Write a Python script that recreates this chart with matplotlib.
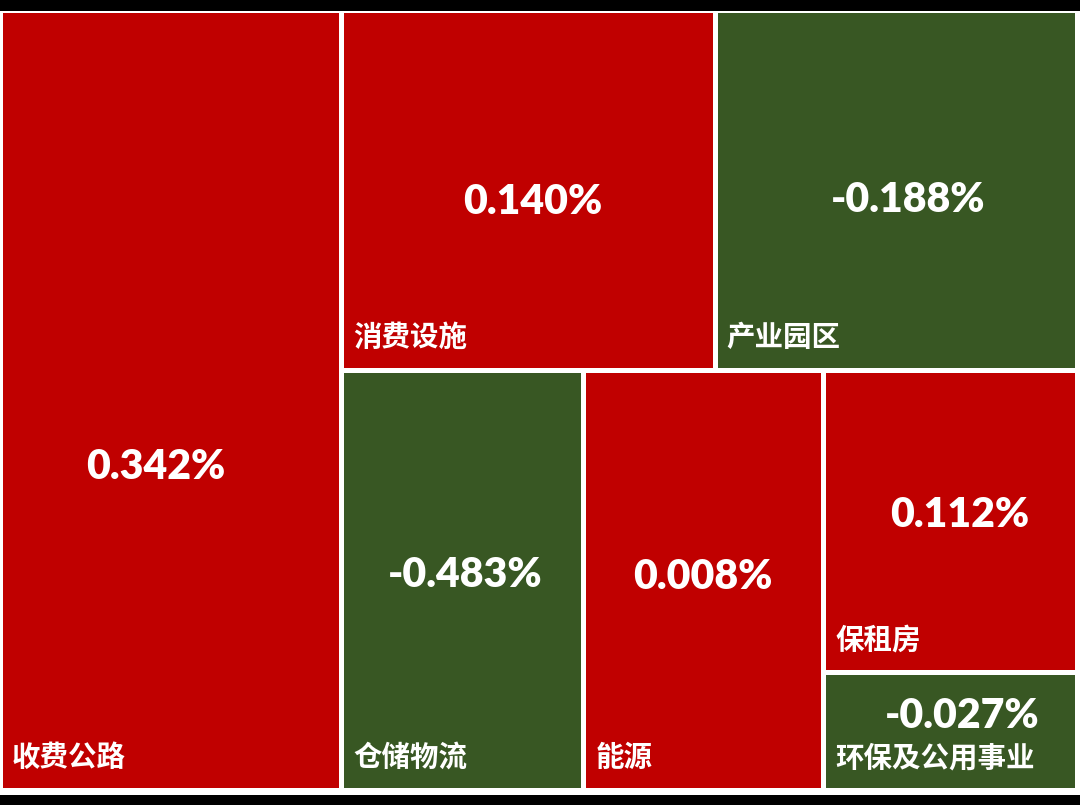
"""
REITs 板块涨跌幅矩形树图（复刻）
"""
import matplotlib
matplotlib.use("Agg")
import matplotlib.pyplot as plt
from matplotlib.patches import Rectangle

plt.rcParams["font.family"] = ["Noto Sans CJK SC", "DejaVu Sans"]

# 板块、涨跌幅(%)、面积权重（按图中面积估计）
sectors = ["收费公路", "消费设施", "产业园区", "仓储物流", "能源", "保租房", "环保及公用事业"]
pct_change = [0.342, 0.140, -0.188, -0.483, 0.008, 0.112, -0.027]
weights = [267, 135, 131, 102, 101, 77, 30]

# 分块结构: "h" 左右并排, "v" 上下堆叠; 叶子为 sectors 的下标
LAYOUT = ("h", [0, ("v", [("h", [1, 2]), ("h", [3, 4, ("v", [5, 6])])])])

# 数值标签相对矩形中心的偏移 (px)
VALUE_OFFSETS = [(-15, 67), (5, 12), (12, 10), (3, -5), (0, -3), (10, -6), (12, -15)]

RED = "#C00000"
GREEN = "#385723"
W_PX, H_PX = 1077, 780.5


def node_weight(node):
    if isinstance(node, int):
        return weights[node]
    return sum(node_weight(c) for c in node[1])


def layout(node, x, y, w, h, out):
    if isinstance(node, int):
        out[node] = (x, y, w, h)
        return
    kind, children = node
    total = node_weight(node)
    pos = 0.0
    for c in children:
        frac = node_weight(c) / total
        if kind == "h":
            layout(c, x + pos, y, w * frac, h, out)
            pos += w * frac
        else:
            layout(c, x, y + pos, w, h * frac, out)
            pos += h * frac


def main():
    fig = plt.figure(figsize=(10.8, 8.05), dpi=100)
    fig.patch.set_facecolor("white")
    ax = fig.add_axes([0, 15 / 805, W_PX / 1080, H_PX / 805])
    ax.set_xlim(0, W_PX)
    ax.set_ylim(H_PX, 0)
    ax.axis("off")

    rects = {}
    layout(LAYOUT, 0, 0, W_PX, H_PX, rects)

    for i, name in enumerate(sectors):
        x, y, w, h = rects[i]
        color = RED if pct_change[i] >= 0 else GREEN
        ax.add_patch(Rectangle((x, y), w, h, facecolor=color, edgecolor="white", linewidth=3.6))
        dx, dy = VALUE_OFFSETS[i]
        ax.text(x + w / 2 + dx, y + h / 2 + dy, f"{pct_change[i]:.3f}%", color="white",
                fontsize=29.5, fontweight="heavy", ha="center", va="center",
                family=["Lato", "DejaVu Sans"])
        ax.text(x + 12, y + h - 32, name, color="white", fontsize=20.5, fontweight="bold",
                ha="left", va="center")

    # 截图上下的黑边
    fig.patches.append(Rectangle((0, 794 / 805), 1, 11 / 805, transform=fig.transFigure,
                                 facecolor="black", edgecolor="none", zorder=10))
    fig.patches.append(Rectangle((0, 0), 1, 10 / 805, transform=fig.transFigure,
                                 facecolor="black", edgecolor="none", zorder=10))

    fig.savefig("out.png", dpi=100)
    plt.close(fig)


if __name__ == "__main__":
    main()
